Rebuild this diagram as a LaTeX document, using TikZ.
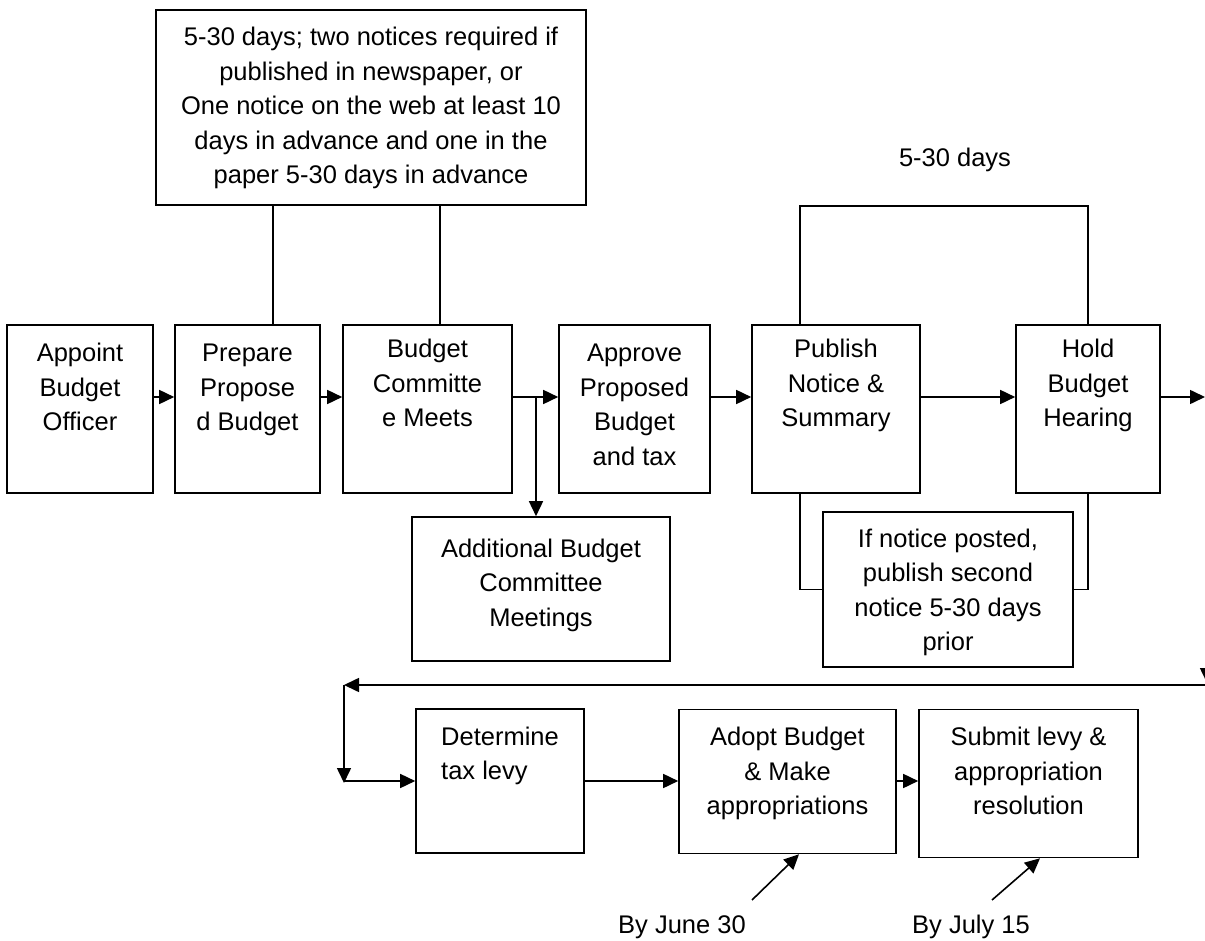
\documentclass[tikz,border=0pt]{standalone}
\usepackage{fontspec}
\setmainfont{Liberation Sans}
\usetikzlibrary{arrows.meta}
\newcommand\steptext[2][c]{\begin{tabular}[t]{@{}#1@{}}#2\end{tabular}}

\begin{document}
\begin{tikzpicture}[x=1pt, y=-1pt, line width=1.6pt,
	stepbox/.style={draw, rectangle, inner sep=0pt, font=\fontsize{25.5}{34.5}\selectfont},
	topbox/.style={stepbox, minimum height=168pt, text height=37pt, text depth=131pt},
	lowbox/.style={stepbox, minimum height=144pt, text height=36pt, text depth=108pt},
	plain/.style={inner sep=0pt, font=\fontsize{25.5}{34.5}\selectfont},
	arr/.style={-{Triangle[length=15pt, width=14pt]}}]
					\useasboundingbox (0, 0) rectangle (1205, 941);
					\clip (0, 0) rectangle (1205, 941);
					\node[stepbox, minimum width=430pt, text height=36pt, text depth=159pt] (notice)at(371, 107.5) {\steptext{5-30 days; two notices required if\\published in newspaper, or\\One notice on the web at least 10\\days in advance and one in the\\paper 5-30 days in advance}};
					\node[plain] (days)at(955, 160) {5-30 days};
					\node[topbox, minimum width=146pt] (appoint)at(80, 409) {\steptext{Appoint\\Budget\\Officer}};
					\node[topbox, minimum width=145pt] (prepare)at(247.5, 409) {\steptext{Prepare\\Propose\\d Budget}};
					\node[topbox, minimum width=169pt, text height=33pt, text depth=135pt] (committee)at(427.5, 409) {\steptext{Budget\\Committe\\e Meets}};
					\node[topbox, minimum width=151pt] (approve)at(634.5, 409) {\steptext{Approve\\Proposed\\Budget\\and tax}};
					\node[topbox, minimum width=168pt, text height=33pt, text depth=135pt] (publish)at(836, 409) {\steptext{Publish\\Notice \&\\Summary}};
					\node[topbox, minimum width=144pt, text height=33pt, text depth=135pt] (hold)at(1088, 409) {\steptext{Hold\\Budget\\Hearing}};
					\node[stepbox, minimum width=258pt, text height=40pt, text depth=104pt] (extra)at(541, 589) {\steptext{Additional Budget\\Committee\\Meetings}};
					\node[stepbox, minimum width=250pt, text height=35pt, text depth=120pt] (posted)at(948, 589.5) {\steptext{If notice posted,\\publish second\\notice 5-30 days\\prior}};
					\node[lowbox, minimum width=168pt] (levy)at(500, 781) {\steptext[l]{Determine\\tax levy}};
					\node[lowbox, minimum width=217pt] (adopt)at(787.5, 781.5) {\steptext{Adopt Budget\\\& Make\\appropriations}};
					\node[lowbox, minimum width=219pt, text depth=112pt] (submit)at(1028.5, 783.5) {\steptext{Submit levy \&\\appropriation\\resolution}};
					\node[plain] (june)at(682, 927) {By June 30};
					\node[plain] (july)at(971, 927) {By July 15};
					\coordinate (row1)at(0, 397);
					\coordinate (row2)at(0, 781);
					\coordinate (tieA)at(273, 0);
					\coordinate (tieB)at(440, 0);
					\coordinate (tieC)at(800, 0);
					\coordinate (span)at(0, 206);
					\coordinate (split)at(536, 397);
					\coordinate (holdout)at(1205, 397);
					\coordinate (backin)at(1215, 685);
					\coordinate (corner)at(344, 685);
					\coordinate (junefoot)at(752, 900);
					\coordinate (julyfoot)at(992, 900);
					\draw (notice.south-|tieA) -- (prepare.north-|tieA);
					\draw (notice.south-|tieB) -- (committee.north-|tieB);
					\draw (publish.north-|tieC) -- (span-|tieC) -| (hold.north);
					\draw (publish.south-|tieC) |- (posted.west);
					\draw (hold.south) |- (posted.east);
					\draw[arr] (appoint.east|-row1) -- (prepare.west|-row1);
					\draw[arr] (prepare.east|-row1) -- (committee.west|-row1);
					\draw[arr] (committee.east|-row1) -- (approve.west|-row1);
					\draw[arr] (split) -- (split|-extra.north);
					\draw[arr] (approve.east|-row1) -- (publish.west|-row1);
					\draw[arr] (publish.east|-row1) -- (hold.west|-row1);
					\draw[arr] (hold.east|-row1) -- (holdout);
					\draw[arr] (1207, 397) -- (1207, 683);
					\draw[arr] (backin) -- (corner);
					\draw[arr] (corner) -- ([yshift=-2pt]corner|-row2);
					\draw[arr] (corner|-row2) -- (levy.west|-row2);
					\draw[arr] (levy.east|-row2) -- (adopt.west|-row2);
					\draw[arr] (adopt.east|-row2) -- (submit.west|-row2);
					\draw[arr] (junefoot) -- ([xshift=11.5pt]adopt.south);
					\draw[arr] (julyfoot) -- ([xshift=11.5pt]submit.south);
				\end{tikzpicture}
\end{document}
